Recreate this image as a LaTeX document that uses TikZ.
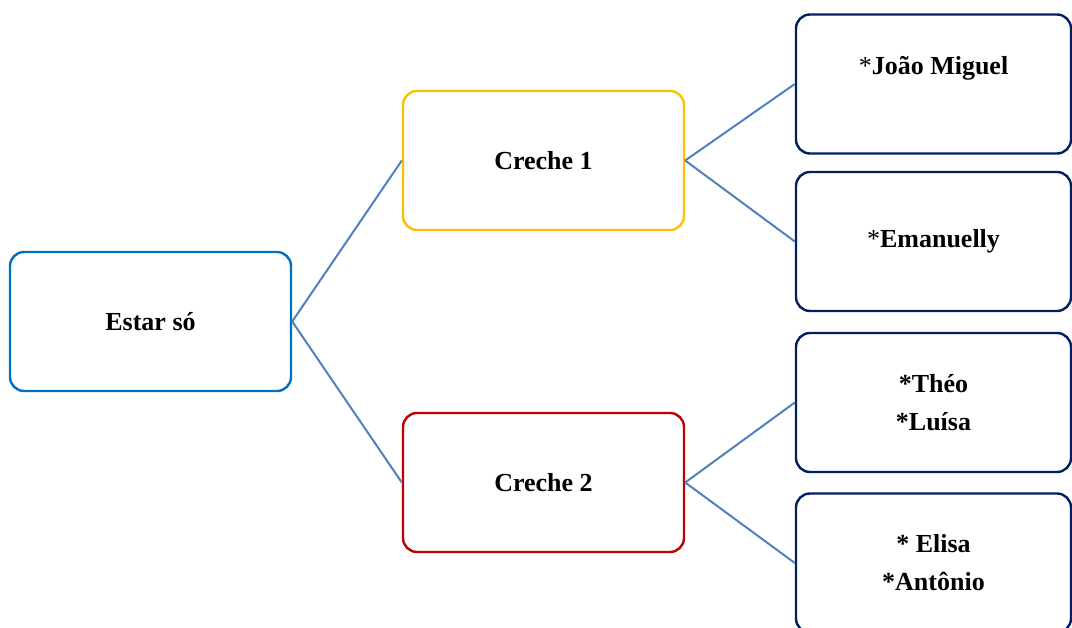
\documentclass[tikz,border=0pt]{standalone}
\usepackage{fontspec}
\setmainfont{Liberation Serif}
\usepackage{xcolor}
\usepackage{tikz}
\usetikzlibrary{positioning}
\definecolor{estarblue}{HTML}{0070C0}
\definecolor{crecheyellow}{HTML}{FFC000}
\definecolor{crechered}{HTML}{C00000}
\definecolor{childnavy}{HTML}{002060}
\definecolor{linkblue}{HTML}{4F81BD}

\begin{document}
\begin{tikzpicture}[x=1pt,y=1pt,
  box/.style={draw,fill=white,line width=2.4pt,rounded corners=14pt,minimum height=139pt,align=center,
    font=\fontsize{26}{38}\selectfont\bfseries},
  mainbox/.style={box,minimum width=281pt},
  childbox/.style={box,draw=childnavy,minimum width=275pt},
  link/.style={draw=linkblue,line width=2pt}
]
\useasboundingbox (0,0) rectangle (1072,-628);
\node[mainbox,draw=estarblue] (estar) at (150.5,-321.5) {Estar só};
\node[mainbox,draw=crecheyellow] (creche1) at (543.5,-160.5) {Creche 1};
\node[mainbox,draw=crechered] (creche2) at (543.5,-482.5) {Creche 2};
\node[childbox] (joao) at (933.5,-84) {{\mdseries*}João Miguel\\ ~};
\node[childbox] (emanuelly) at (933.5,-241.5) {{\mdseries*}Emanuelly};
\node[childbox] (theo) at (933.5,-402.5) {*Théo\\ *Luísa};
\node[childbox] (elisa) at (933.5,-563) {* Elisa\\ *Antônio};

\draw[link] (estar.east) -- (creche1.west);
\draw[link] (estar.east) -- (creche2.west);
\draw[link] (creche1.east) -- (joao.west);
\draw[link] (creche1.east) -- (emanuelly.west);
\draw[link] (creche2.east) -- (theo.west);
\draw[link] (creche2.east) -- (elisa.west);
\end{tikzpicture}
\end{document}
